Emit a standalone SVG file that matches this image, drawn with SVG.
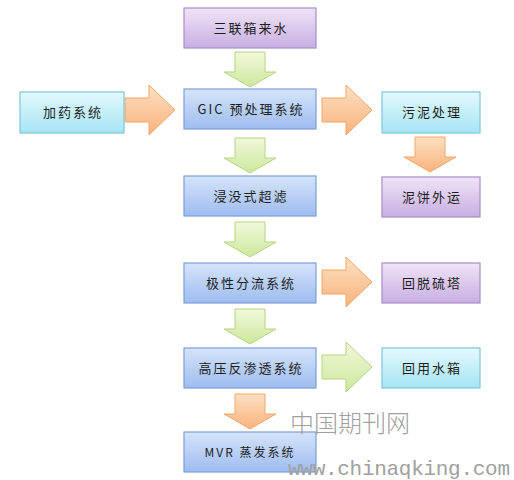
<svg xmlns="http://www.w3.org/2000/svg" width="514" height="480" viewBox="0 0 514 480">
<defs>
<linearGradient id="gBlue" x1="0" y1="0" x2="0" y2="1"><stop offset="0" stop-color="#d6e4fa"/><stop offset="1" stop-color="#9dbcf0"/></linearGradient>
<linearGradient id="gPurple" x1="0" y1="0" x2="0" y2="1"><stop offset="0" stop-color="#efe4f7"/><stop offset="1" stop-color="#c8aee2"/></linearGradient>
<linearGradient id="gCyan" x1="0" y1="0" x2="0" y2="1"><stop offset="0" stop-color="#e4f9fd"/><stop offset="1" stop-color="#a5e4f4"/></linearGradient>
<linearGradient id="gOrange" x1="0" y1="0" x2="0" y2="1"><stop offset="0" stop-color="#fde0c2"/><stop offset="1" stop-color="#f9b27c"/></linearGradient>
<linearGradient id="gGreen" x1="0" y1="0" x2="0" y2="1"><stop offset="0" stop-color="#f1f9dc"/><stop offset="1" stop-color="#cde79d"/></linearGradient>
<path id="down" d="M11,0 H41 V20 H52 L26,35 L0,20 H11 Z"/>
<path id="right" d="M0,13 H24 V0 L50,25 L24,50 V37 H0 Z"/>
</defs>
<style>
.box{stroke-width:1.2}
.blue{fill:url(#gBlue);stroke:#7c9fd6}
.purple{fill:url(#gPurple);stroke:#a88cc8}
.cyan{fill:url(#gCyan);stroke:#7fc6d9}
.org{fill:url(#gOrange);stroke:#f3a669;stroke-width:1}
.grn{fill:url(#gGreen);stroke:#b5d57e;stroke-width:1}
.t{font-family:"Noto Sans CJK SC","Noto Sans CJK JP",sans-serif;font-size:13px;fill:#1e1e1e;text-anchor:middle;letter-spacing:2px}
.wm{font-family:"Noto Sans CJK SC",sans-serif;fill:#a0a0a0}
</style>
<rect width="514" height="480" fill="#ffffff"/>
<g id="connectors">
<use href="#down" x="224" y="52" class="grn"/>
<use href="#right" x="125" y="85" class="org"/>
<use href="#right" x="322" y="85" class="org"/>
<use href="#down" x="404" y="137" class="org"/>
<use href="#down" x="224" y="138" class="grn"/>
<use href="#down" x="224" y="222" class="grn"/>
<use href="#right" x="322" y="257" class="org"/>
<use href="#down" x="224" y="309" class="grn"/>
<use href="#right" x="322" y="342" class="grn"/>
<use href="#down" x="224" y="394" class="org"/>
</g>
<g id="n1"><rect class="box purple" x="184" y="8" width="132" height="40"/><text class="t" x="251" y="33">三联箱来水</text></g>
<g id="n2"><rect class="box blue" x="184" y="89" width="132" height="40"/><text class="t" x="251" y="114">GIC 预处理系统</text></g>
<g id="n3"><rect class="box cyan" x="20" y="92" width="104" height="41"/><text class="t" x="73" y="117">加药系统</text></g>
<g id="n4"><rect class="box cyan" x="382" y="92" width="98" height="41"/><text class="t" x="432" y="117">污泥处理</text></g>
<g id="n5"><rect class="box purple" x="382" y="177" width="98" height="40"/><text class="t" x="432" y="202">泥饼外运</text></g>
<g id="n6"><rect class="box blue" x="184" y="176" width="132" height="40"/><text class="t" x="251" y="201">浸没式超滤</text></g>
<g id="n7"><rect class="box blue" x="184" y="263" width="132" height="40"/><text class="t" x="251" y="288">极性分流系统</text></g>
<g id="n8"><rect class="box purple" x="382" y="263" width="98" height="40"/><text class="t" x="432" y="288">回脱硫塔</text></g>
<g id="n9"><rect class="box blue" x="184" y="348" width="132" height="40"/><text class="t" x="251" y="373">高压反渗透系统</text></g>
<g id="n10"><rect class="box cyan" x="382" y="348" width="98" height="40"/><text class="t" x="432" y="373">回用水箱</text></g>
<g id="n11"><rect class="box blue" x="184" y="432" width="132" height="40"/><text class="t" x="250" y="457" style="font-size:12px">MVR 蒸发系统</text></g>
<text class="wm" x="290" y="432" font-size="24" font-weight="300" textLength="120">中国期刊网</text>
<text class="wm" x="288" y="475" font-size="21" style="font-family:'Liberation Mono',monospace" textLength="222">www.chinaqking.com</text>
</svg>
